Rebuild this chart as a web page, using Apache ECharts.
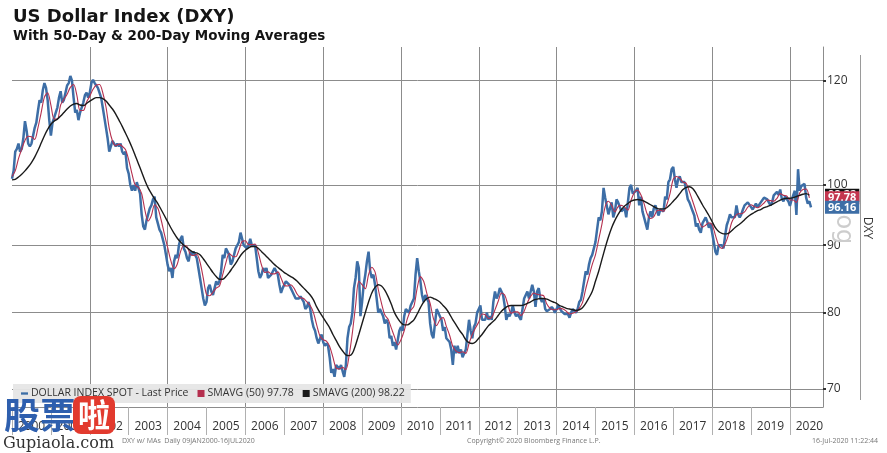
<!DOCTYPE html>
<html><head><meta charset="utf-8">
<script src="https://cdn.jsdelivr.net/npm/echarts@6/dist/echarts.min.js"></script>
<style>html,body{margin:0;padding:0;background:#fff}#c{width:887px;height:453px}</style>
</head><body><div id="c"></div>
<script>
// ---------- DATA ----------
const startYear = 2000;           // first observation: start of January 2000
const yearLabels = [2000,2001,2002,2003,2004,2005,2006,2007,2008,2009,2010,2011,2012,2013,2014,2015,2016,2017,2018,2019,2020];
const yTickValues = [70,80,90,100,120];
const seriesNames = ['DOLLAR INDEX SPOT - Last Price','SMAVG (50) 97.78','SMAVG (200) 98.22'];
const lastValues = [96.16, 97.78, 98.22];

// DXY, two readings per month (1st and 16th), Jan 2000 .. 16 Jul 2020
const priceValues = [
101.1,102.5,106.0,106.5,107.5,106.0,106.5,108.5,111.8,110.0,107.5,107.0,107.5,109.0,110.5,111.5,113.8,116.0,115.5,118.0,119.5,118.5,116.0,112.0,
109.0,111.5,112.5,113.5,114.5,116.5,117.8,115.5,116.0,117.5,119.0,119.5,121.0,120.0,116.5,113.5,114.0,112.0,113.5,114.5,115.5,117.0,117.5,116.5,
117.5,119.5,120.2,119.5,119.0,118.5,118.8,116.5,114.5,112.5,110.5,108.5,106.0,107.0,108.0,107.5,107.0,107.5,107.0,107.5,106.0,105.5,106.0,103.0,
102.0,100.0,99.0,100.0,99.0,100.5,99.5,98.5,95.0,93.0,92.5,94.0,95.0,96.0,96.5,97.5,98.0,94.5,93.5,92.5,92.0,91.0,90.0,88.5,
87.0,86.0,86.5,85.0,87.5,88.5,88.0,90.0,91.0,91.5,89.5,89.0,88.0,87.5,89.0,88.5,89.0,88.5,88.0,86.5,85.0,83.5,82.0,81.0,
81.5,83.5,84.0,83.0,82.5,83.5,84.5,84.0,84.5,86.0,88.5,88.0,89.5,89.0,88.5,87.0,87.5,88.5,89.5,90.0,90.5,92.0,91.0,90.0,
90.0,89.5,90.0,91.0,90.0,90.0,90.0,88.0,86.0,85.0,85.5,86.5,86.0,86.5,85.0,85.0,85.5,86.0,86.5,86.0,85.5,84.0,82.8,83.5,
83.5,84.5,84.5,84.0,83.5,83.0,82.5,82.0,81.8,82.0,82.3,82.5,81.5,80.5,80.8,81.5,80.5,79.0,78.0,77.5,76.5,75.8,76.0,77.0,
76.0,75.5,75.8,75.5,74.0,72.0,72.5,71.5,73.0,72.8,72.5,73.0,72.2,71.5,73.0,76.5,78.0,78.5,80.0,83.5,85.0,87.5,86.5,79.5,
81.5,84.0,85.5,87.5,89.0,86.0,85.0,85.5,84.0,82.0,80.0,80.5,80.0,79.5,78.5,79.0,78.5,76.5,76.8,75.5,76.0,75.0,74.8,77.5,
78.0,77.5,79.5,80.5,80.5,80.0,81.0,81.0,82.0,85.5,88.0,86.0,84.5,82.5,81.5,82.5,82.5,81.5,78.5,77.0,76.5,78.5,80.5,80.0,
79.5,79.0,77.5,78.0,76.5,76.5,76.0,75.0,73.0,75.5,74.5,75.5,74.5,75.0,74.0,74.0,75.0,77.0,79.0,77.5,76.5,78.0,78.5,80.0,
80.5,81.0,79.0,79.0,79.0,80.0,79.0,79.5,79.0,81.5,83.0,82.0,82.5,83.5,83.0,82.5,81.0,79.0,79.8,79.5,80.0,81.0,80.0,79.5,
79.8,79.8,79.0,80.5,82.0,82.5,83.0,82.0,82.0,84.0,83.0,80.8,83.0,83.5,82.0,81.5,82.0,80.5,80.2,80.0,80.5,80.8,80.5,80.0,
80.2,81.0,81.2,80.2,80.0,79.8,80.0,79.8,79.3,80.0,80.5,80.5,80.0,80.5,81.5,81.8,83.0,84.5,86.0,85.5,87.0,88.0,88.5,88.5,
90.5,92.5,94.5,94.0,95.5,99.5,97.8,98.0,95.0,94.8,97.0,94.5,95.5,97.5,97.0,96.8,95.5,95.5,96.0,94.5,97.0,99.5,100.0,98.5,
98.7,99.0,99.5,96.5,98.0,95.5,94.5,94.5,92.5,94.5,95.5,94.5,96.0,96.5,95.5,94.8,95.8,96.0,95.5,98.0,97.5,100.5,101.0,102.8,
103.2,101.0,99.5,101.0,101.5,100.5,100.2,100.5,99.0,97.5,97.0,97.2,95.5,94.8,93.0,93.5,92.5,92.0,93.5,93.3,94.5,93.8,92.8,93.5,
92.0,90.5,89.0,88.5,90.0,89.8,90.0,89.5,91.5,93.2,94.0,95.0,94.5,94.8,94.5,96.5,95.0,94.5,95.0,95.8,96.5,96.5,97.0,97.0,
96.2,95.8,95.5,96.8,96.2,96.5,97.0,97.0,97.8,97.6,97.5,97.0,96.5,97.0,98.2,98.0,98.8,98.3,99.2,97.6,97.2,98.0,98.3,97.2,
96.4,97.4,97.5,99.0,94.9,102.8,99.0,99.8,99.5,100.2,97.8,96.8,97.2,96.16
];

// 50-day moving average, one reading per month, Jan 2000 .. Jul 2020
const ma50Values = [
101.5,102.5,104.7,106.5,108.1,108.9,108.8,108.3,110.5,113.5,116.6,117.5,
115.0,112.2,112.2,115.0,116.1,117.2,118.6,119.2,117.0,113.9,113.9,115.6,
116.8,118.2,119.1,119.2,117.5,114.6,110.4,108.0,107.1,107.4,107.0,106.4,
104.5,102.0,100.0,99.6,98.5,95.7,93.9,94.8,96.6,96.0,94.1,91.8,
89.7,87.6,86.4,87.1,89.0,90.0,89.8,88.6,88.4,88.6,87.4,85.0,
82.6,82.4,82.9,83.5,83.8,85.5,87.3,88.7,88.3,88.2,89.2,90.6,
90.7,90.1,90.1,90.2,88.8,86.9,85.8,85.9,85.6,85.6,85.9,85.0,
83.9,83.8,84.0,83.5,82.6,82.1,82.0,81.5,81.0,80.0,78.3,76.8,
76.3,76.1,75.4,74.0,72.6,72.5,72.7,72.4,74.2,77.2,81.0,84.5,
84.0,83.4,85.5,86.6,85.9,83.3,81.3,79.7,79.1,77.9,76.7,75.6,
76.3,77.5,79.2,80.3,80.9,83.5,85.2,84.5,82.7,81.3,79.2,78.2,
79.0,79.3,78.1,76.9,75.4,74.8,74.6,74.7,74.5,75.8,77.0,77.9,
78.7,79.8,79.7,79.2,79.3,80.4,81.6,82.8,82.5,81.1,79.9,80.1,
80.1,79.6,80.2,81.4,82.3,82.8,82.6,82.5,82.4,81.2,80.6,80.4,
80.4,80.6,80.5,80.2,79.8,79.9,80.1,80.6,81.4,83.4,85.2,87.0,
88.5,90.9,93.4,96.3,97.2,96.5,95.4,96.3,96.5,96.2,95.7,97.4,
98.7,99.1,98.3,96.8,95.0,94.3,94.6,95.6,95.7,95.5,96.6,98.5,
101.0,101.5,101.2,100.5,100.3,98.8,97.2,95.5,93.9,92.9,93.2,93.6,
93.3,91.6,90.0,89.5,90.2,91.6,93.6,94.6,95.1,95.1,95.4,96.2,
96.6,96.3,96.1,96.4,96.9,97.4,97.3,97.2,97.7,98.5,98.2,98.1,
97.4,97.4,97.0,98.6,99.2,99.3,97.78
];

// 200-day moving average, one reading per month, Jan 2000 .. Jul 2020
const ma200Values = [
100.9,101.0,101.4,101.9,102.5,103.2,104.0,105.0,106.2,107.6,109.0,110.2,
111.2,111.8,112.2,112.8,113.5,114.2,114.8,115.2,115.3,115.0,114.9,115.3,
115.8,116.2,116.5,116.5,116.3,115.8,115.0,114.2,113.2,112.0,110.8,109.5,
108.2,106.8,105.3,103.8,102.3,100.8,99.5,98.5,97.6,96.8,95.8,94.8,
93.8,92.8,91.9,91.1,90.5,90.0,89.6,89.2,88.9,88.8,88.5,87.9,
87.2,86.5,85.8,85.2,84.8,84.8,85.2,85.8,86.5,87.2,88.0,88.7,
89.2,89.6,89.8,89.8,89.5,89.0,88.5,88.0,87.5,87.0,86.6,86.2,
85.8,85.5,85.2,84.9,84.5,84.0,83.5,83.0,82.5,81.8,80.8,80.0,
79.3,78.6,77.9,77.0,76.2,75.4,74.8,74.3,74.2,74.5,75.6,77.0,
78.5,80.0,81.5,82.8,83.6,84.0,83.8,83.2,82.3,81.2,80.0,79.2,
78.6,78.3,78.3,78.6,79.0,79.8,80.7,81.5,82.0,82.2,82.0,81.8,
81.5,81.0,80.5,79.8,79.0,78.3,77.6,77.0,76.3,75.9,75.8,76.0,
76.5,77.0,77.6,78.2,78.6,79.0,79.6,80.2,80.6,80.9,81.0,81.0,
81.0,81.0,81.1,81.3,81.5,81.8,81.9,82.0,82.0,81.9,81.7,81.5,
81.3,81.0,80.8,80.6,80.5,80.4,80.3,80.4,80.7,81.3,82.1,83.0,
84.5,86.0,87.8,89.6,91.3,92.8,94.0,95.0,95.8,96.4,96.8,97.2,
97.4,97.5,97.4,97.2,96.9,96.6,96.3,96.0,95.9,95.9,96.1,96.6,
97.2,97.8,98.5,99.2,99.6,99.7,99.4,98.6,97.6,96.6,95.7,94.8,
93.8,92.8,92.2,91.9,91.8,91.9,92.3,92.8,93.2,93.6,94.1,94.6,
95.0,95.3,95.6,95.8,96.1,96.3,96.5,96.8,97.1,97.4,97.6,97.7,
97.7,97.8,98.0,98.2,98.4,98.5,98.22
];

// ---------- CHART ----------
const colors = {price:'#3d6ea6', ma50:'#b5304f', ma200:'#1a1a1a', grid:'#8c8c8c'};
const priceData = priceValues.map((v,i)=>[startYear + i/24, v]);
const ma50Data = ma50Values.map((v,i)=>[startYear + i/12, v]);
const ma200Data = ma200Values.map((v,i)=>[startYear + i/12, v]);

function tagLine(value, bg, z){
  return {
    silent:true, symbol:['none','none'], z:z, animation:false,
    lineStyle:{color:'rgba(0,0,0,0)', width:1, type:'solid'},
    label:{show:true, position:'end', distance:2, formatter:()=>value.toFixed(2),
      color:'#fff', backgroundColor:bg, padding:[1,3,0,3], fontSize:11, fontWeight:'bold',
      fontFamily:'Open Sans', lineHeight:12},
    emphasis:{disabled:true},
    data:[{yAxis:value}]
  };
}

const chart = echarts.init(document.getElementById('c'), null, {renderer:'canvas'});
chart.setOption({
  animation:false,
  backgroundColor:'#fff',
  textStyle:{fontFamily:'Open Sans'},
  grid:{left:12, right:64, top:47, bottom:46, containLabel:false},
  legend:{
    left:13, top:384, itemGap:9, itemWidth:7, itemHeight:7, selectedMode:false,
    backgroundColor:'rgba(230,230,230,0.95)', padding:[4,6,4,8],
    textStyle:{color:'#333', fontSize:10.5, fontFamily:'Open Sans', padding:[0,0,0,-2]},
    data:[
      {name:seriesNames[0], icon:'path://M0,0H12V4H0Z'},
      {name:seriesNames[1], icon:'rect'},
      {name:seriesNames[2], icon:'rect'}
    ]
  },
  xAxis:[{
    type:'value', min:2000, max:2020.85, position:'bottom',
    axisLine:{show:true, lineStyle:{color:colors.grid, width:1}},
    axisTick:{show:true, customValues:yearLabels, length:28, lineStyle:{color:'#b0b0b0'}},
    axisLabel:{customValues:yearLabels.map(y=>y+0.5), formatter:v=>String(Math.floor(v+1e-6)),
      color:'#333', fontSize:12, margin:14, fontFamily:'Open Sans'},
    splitLine:{show:false}
  },{
    type:'value', min:2000, max:2020.85, interval:2, position:'top',
    axisLine:{show:false}, axisTick:{show:false}, axisLabel:{show:false},
    splitLine:{show:true, showMinLine:false, showMaxLine:false, lineStyle:{color:colors.grid, width:1}}
  }],
  yAxis:{
    type:'log', logBase:10, min:67.83, max:127.28, position:'right',
    axisLine:{show:true, lineStyle:{color:colors.grid}},
    axisTick:{show:true, customValues:yTickValues, length:3, lineStyle:{color:'#333', width:2}},
    axisLabel:{customValues:yTickValues, color:'#333', fontSize:12, margin:4, fontFamily:'Open Sans'},
    splitLine:{show:true, lineStyle:{color:colors.grid, width:1}}
  },
  series:[
    {name:seriesNames[0], type:'line', xAxisIndex:0, data:priceData, showSymbol:false, z:2,
      lineStyle:{color:colors.price, width:2.5}, itemStyle:{color:colors.price},
      markLine:tagLine(lastValues[0], colors.price, 9)},
    {name:seriesNames[1], type:'line', xAxisIndex:0, data:ma50Data, showSymbol:false, z:3, smooth:0.3,
      lineStyle:{color:colors.ma50, width:1.1}, itemStyle:{color:colors.ma50},
      markLine:tagLine(lastValues[1], '#c4364f', 8)},
    {name:seriesNames[2], type:'line', xAxisIndex:0, data:ma200Data, showSymbol:false, z:4, smooth:0.3,
      lineStyle:{color:colors.ma200, width:1.4}, itemStyle:{color:colors.ma200},
      markLine:tagLine(lastValues[2], '#111', 7)}
  ],
  graphic:[
    {type:'text', left:13, top:8, z:50, style:{text:'US Dollar Index (DXY)', font:'bold 18px "DejaVu Sans"', fill:'#151515'}},
    {type:'text', left:13, top:29, z:50, style:{text:'With 50-Day & 200-Day Moving Averages', font:'bold 13.5px "DejaVu Sans"', fill:'#151515'}},
    {type:'line', z:50, shape:{x1:860.5, y1:55, x2:860.5, y2:400}, style:{stroke:'#9a9a9a', lineWidth:1}},
    {type:'text', x:867, y:228, rotation:-Math.PI/2, z:50, style:{text:'DXY', font:'12px "Open Sans"', fill:'#333', align:'center', verticalAlign:'middle'}},
    {type:'text', x:843, y:226, rotation:-Math.PI/2, z:1, style:{text:'log', font:'24px "DejaVu Sans"', fill:'#cdcdcd', align:'center', verticalAlign:'middle'}},
    {type:'text', x:122, y:441, z:50, style:{text:'DXY w/ MAs  Daily 09JAN2000-16JUL2020', font:'7px "Open Sans"', fill:'#777', verticalAlign:'middle'}},
    {type:'text', x:467, y:441, z:50, style:{text:'Copyright\u00a9 2020 Bloomberg Finance L.P.', font:'7px "Open Sans"', fill:'#777', verticalAlign:'middle'}},
    {type:'text', x:878, y:441, z:50, style:{text:'16-Jul-2020 11:22:44', font:'7px "Open Sans"', fill:'#777', align:'right', verticalAlign:'middle'}},
    {type:'text', x:4, y:415, z:100, style:{text:'股票', font:'bold 36px "Noto Sans CJK SC"', fill:'#2e5fae', verticalAlign:'middle'}},
    {type:'rect', z:100, shape:{x:73, y:396, width:42, height:38, r:8}, style:{fill:'#e23a2e'}},
    {type:'text', x:94, y:415, z:101, style:{text:'啦', font:'bold 32px "Noto Sans CJK SC"', fill:'#fff', align:'center', verticalAlign:'middle'}},
    {type:'text', x:3, y:444, z:100, style:{text:'Gupiaola.com', font:'16px "DejaVu Serif"', fill:'#333', verticalAlign:'middle'}}
  ]
});
</script></body></html>
